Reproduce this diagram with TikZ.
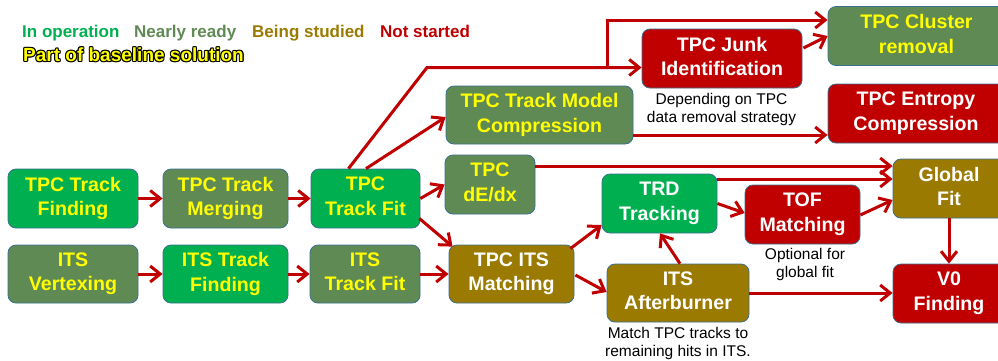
\documentclass[tikz,border=0pt]{standalone}
\usepackage{fontspec}
\setmainfont{Liberation Sans}
\usetikzlibrary{calc,fit,arrows.meta}
\definecolor{opgreen}{HTML}{00B050}
\definecolor{nrgreen}{HTML}{608A54}
\definecolor{studgold}{HTML}{9A7A00}
\definecolor{nsred}{HTML}{C00000}
\definecolor{bordc}{HTML}{3A6F8F}
\definecolor{arrc}{HTML}{C00000}
\definecolor{byellow}{HTML}{FFFF00}
\newcommand\boxfont{\fontsize{19.6}{24.5}\selectfont\bfseries}
\newcommand\topstrut{\rule{0pt}{19.5pt}}
\newcommand\botstrut{\rule[-4.5pt]{0pt}{4.5pt}}
\tikzset{
  box/.style={rounded corners=8pt, draw=bordc, line width=0.8pt, minimum height=59pt,
    align=center, font=\boxfont, inner sep=0pt,
    execute at begin node=\topstrut, execute at end node=\botstrut},
  boxtext/.style={align=center, font=\boxfont, inner sep=0pt,
    execute at begin node=\topstrut, execute at end node=\botstrut},
  arr/.style={draw=arrc, line width=3pt, -{Straight Barb[length=10pt,width=16pt]}},
  legend/.style={anchor=base west, inner sep=0pt, font=\fontsize{17}{20}\selectfont\bfseries},
  baseline/.style={anchor=base west, inner sep=0pt, font=\fontsize{19}{22}\selectfont\bfseries},
  note/.style={anchor=north, align=center, inner sep=0pt, font=\fontsize{15.5}{18}\selectfont},
}
\begin{document}
\begin{tikzpicture}[x=1pt,y=-1pt]
\useasboundingbox (0,0) rectangle (998,360);
\clip (0,0) rectangle (998,360);
% legend
\node[legend, text=opgreen] (lg1) at (22,37.5) {In operation};
\node[legend, text=nrgreen] (lg2) at (134,37.5) {Nearly ready};
\node[legend, text=studgold] (lg3) at (252,37.5) {Being studied};
\node[legend, text=nsred] (lg4) at (380,37.5) {Not started};
\foreach \a in {0,45,...,315}
  \node[baseline, text=black] at ($(23,61.5)+(\a:1.1pt)$) {Part of baseline solution};
\node[baseline, text=byellow] (lg5) at (23,61.5) {Part of baseline solution};
% boxes
\node[box, fill=opgreen, text=byellow, minimum width=130pt] (tf) at (73,198.5) {TPC Track\\Finding};
\node[box, fill=nrgreen, text=byellow, minimum width=125pt] (tm) at (225.5,198.5) {TPC Track\\Merging};
\node[box, fill=opgreen, text=byellow, minimum width=109pt] (tfit) at (365.5,198.5) {TPC\\Track Fit};
\node[box, fill=nrgreen, text=byellow, minimum width=130pt, minimum height=58pt] (iv) at (73,274) {ITS\\Vertexing};
\node[box, fill=opgreen, text=byellow, minimum width=125pt, minimum height=58pt] (itf) at (225.5,274) {ITS Track\\Finding};
\node[box, fill=nrgreen, text=byellow, minimum width=110pt, minimum height=58pt] (ifit) at (365,274) {ITS\\Track Fit};
\node[box, fill=nrgreen, text=byellow, minimum width=90pt] (dedx) at (490,184.5) {TPC\\dE/dx};
\node[box, fill=studgold, text=white, minimum width=125pt, minimum height=58pt] (tim) at (511.5,274) {TPC ITS\\Matching};
\node[box, fill=nrgreen, text=byellow, minimum width=187pt, minimum height=58pt] (tmc) at (539.5,115) {TPC Track Model\\Compression};
\node[box, fill=nsred, text=white, minimum width=160pt] (junk) at (722,58.5) {TPC Junk\\Identification};
\node[box, fill=opgreen, text=white, minimum width=115pt] (trd) at (659.5,203.5) {TRD\\Tracking};
\node[box, fill=nsred, text=white, minimum width=115pt] (tof) at (802.5,214.5) {TOF\\Matching};
\node[box, fill=studgold, text=white, minimum width=142pt, minimum height=58pt] (itsab) at (678,293) {ITS\\Afterburner};
\node[box, fill=nrgreen, fit={(828,7) (1010,65)}] (clus) {};
\node[boxtext, text=byellow] (clustext) at (916.5,36) {TPC Cluster\\removal};
\node[box, fill=nsred, fit={(828,84) (1010,143)}] (entropy) {};
\node[boxtext, text=white] (entropytext) at (916,113.5) {TPC Entropy\\Compression};
\node[box, fill=studgold, fit={(893,159) (1010,218)}] (global) {};
\node[boxtext, text=white] (globaltext) at (949,188.5) {Global\\Fit};
\node[box, fill=nsred, fit={(893,264) (1010,323)}] (v0) {};
\node[boxtext, text=white] (v0text) at (949,293.5) {V0\\Finding};
% notes
\node[note] (n1) at (721.5,93) {Depending on TPC\\data removal strategy};
\node[note] (n2) at (805,248) {Optional for\\global fit};
\node[note] (n3) at (678,327) {Match TPC tracks to\\remaining hits in ITS.};
% connectors
\draw[arr] (tf.east) -- (tm.west);
\draw[arr] (tm.east) -- (tfit.west);
\draw[arr] (iv.east) -- (itf.west);
\draw[arr] (itf.east) -- (ifit.west);
\draw[arr] (ifit.east) -- (tim.west);
\draw[arr] (tfit.east) -- (dedx.west);
\draw[arr] ($(tfit.east)+(-1,20)$) -- ($(tim.north west)+(4,2)$);
\draw[arr] ($(tfit.north)+(0.5,0)$) -- ($(tmc.west)+(0,2)$);
\coordinate (bend) at (427,67.5);
\coordinate (split) at (607,67.5);
\draw[arr] ($(tfit.north)+(-17,0)$) -- (bend) -- (bend -| junk.west);
\coordinate (c1) at ($(clus.west)+(0,-16)$);
\draw[arr] (split) |- (c1);
\draw[arr] ($(junk.east)+(1,-10.5)$) -- (clus.west);
\coordinate (m1) at ($(tmc.east)+(0,20)$);
\draw[arr] (m1) -- (m1 -| entropy.west);
\coordinate (d1) at ($(dedx.east)+(0,-18.5)$);
\draw[arr] (d1) -- (d1 -| global.west);
\coordinate (t1) at ($(trd.east)+(0,-24.5)$);
\draw[arr] (t1) -- (t1 -| global.west);
\draw[arr] (trd.east) -- ($(tof.west)+(0,-1.5)$);
\draw[arr] ($(tof.east)+(0,0.5)$) -- ($(global.west)+(0,11.5)$);
\draw[arr] ($(tim.north east)+(-4,4)$) -- ($(trd.west)+(0,21.5)$);
\draw[arr] ($(tim.east)+(1,1)$) -- ($(itsab.west)+(0,-1)$);
\draw[arr] ($(itsab.north)+(2,0)$) -- ($(trd.south)+(0.5,0)$);
\draw[arr] (itsab.east) -- (itsab.east -| v0.west);
\draw[arr] (globaltext |- global.south) -- (globaltext |- v0.north);
\end{tikzpicture}
\end{document}
